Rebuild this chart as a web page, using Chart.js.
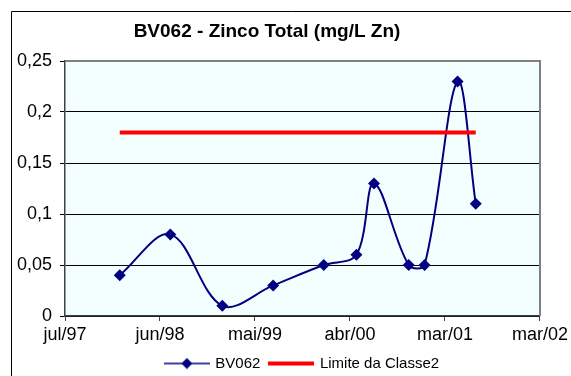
<!DOCTYPE html>
<html>
<head>
<meta charset="utf-8">
<title>BV062 - Zinco Total</title>
<script src="https://cdn.jsdelivr.net/npm/chart.js@4.4.1/dist/chart.umd.min.js"></script>
<style>
    html, body { margin: 0; padding: 0; background: #ffffff; overflow: hidden; }
    #wrap { width: 571px; height: 390px; }
</style>
</head>
<body>
<div id="wrap"><canvas id="chart1" width="571" height="390"></canvas></div>
<script>
/* ---------------------------------------------------------------------------------------- */
/* DATA                                                                                     */
/* ---------------------------------------------------------------------------------------- */

    var chartTitle   = 'BV062 - Zinco Total (mg/L Zn)';
    var seriesName   = 'BV062';
    var limitName    = 'Limite da Classe2';

    var sampleDates  = ['1998-01-21', '1998-07-21', '1999-01-23', '1999-07-24', '2000-01-21', '2000-05-17',
                        '2000-07-19', '2000-11-20', '2001-01-16', '2001-05-14', '2001-07-18'];
    var zincValues   = [0.04, 0.08, 0.01, 0.03, 0.05, 0.06, 0.13, 0.05, 0.05, 0.23, 0.11];
    var limitValue   = 0.18;

    var xTickLabels  = ['jul/97', 'jun/98', 'mai/99', 'abr/00', 'mar/01', 'mar/02'];
    var xAxisStart   = '1997-07-09';
    var xTickDays    = 340;

    var yMin = 0, yMax = 0.25, yStep = 0.05;

/* ---------------------------------------------------------------------------------------- */
/* HELPERS                                                                                  */
/* ---------------------------------------------------------------------------------------- */

    var FONT = '"Liberation Sans", Arial, sans-serif';

    function dayNum(s){
        var p = s.split('-');
        return Date.UTC(+p[0], +p[1] - 1, +p[2]) / 86400000;
    }

    function legendSwatch(color, lineW, marker){
        var c = document.createElement('canvas');
        c.width = 46; c.height = 12;
        var g = c.getContext('2d');
        g.strokeStyle = color; g.lineWidth = lineW;
        g.beginPath(); g.moveTo(0, 6); g.lineTo(46, 6); g.stroke();
        if(marker){
            g.fillStyle = color;
            g.beginPath();
            g.moveTo(23, 0.5); g.lineTo(28.5, 6); g.lineTo(23, 11.5); g.lineTo(17.5, 6);
            g.closePath(); g.fill();
        }
        return c;
    }

    var x0 = dayNum(xAxisStart);
    var x1 = x0 + xTickDays * (xTickLabels.length - 1);

    var zincPoints  = sampleDates.map(function(d, i){ return { x: dayNum(d), y: zincValues[i] }; });
    var limitPoints = sampleDates.map(function(d){ return { x: dayNum(d), y: limitValue }; });

    var swatches = [ legendSwatch('#000080', 1.5, true), legendSwatch('#ff0000', 4, false) ];

/* ---------------------------------------------------------------------------------------- */
/* FRAME / TITLE PLUGIN                                                                     */
/* ---------------------------------------------------------------------------------------- */

    var excelFrame = {
        id: 'excelFrame',
        beforeDraw: function(chart){
            var ctx = chart.ctx, a = chart.chartArea;
            ctx.save();
            ctx.fillStyle = '#ffffff';
            ctx.fillRect(0, 0, chart.width, chart.height);
            // outer chart border (only left/top are inside the picture)
            ctx.strokeStyle = '#000000'; ctx.lineWidth = 1;
            ctx.beginPath();
            ctx.moveTo(11.5, chart.height); ctx.lineTo(11.5, 11.5); ctx.lineTo(chart.width, 11.5);
            ctx.stroke();
            // plot area
            ctx.fillStyle = '#f3ffff';
            ctx.fillRect(a.left, a.top, a.right - a.left, a.bottom - a.top);
            // title
            ctx.fillStyle = '#000000';
            ctx.font = 'bold 19px ' + FONT;
            ctx.textAlign = 'center'; ctx.textBaseline = 'middle';
            ctx.fillText(chartTitle, 267, 32);
            ctx.restore();
        },
        beforeDatasetsDraw: function(chart){
            var ctx = chart.ctx, a = chart.chartArea;
            ctx.save();
            ctx.strokeStyle = '#808080'; ctx.lineWidth = 2;
            ctx.beginPath();
            ctx.moveTo(a.left, a.top); ctx.lineTo(a.right, a.top); ctx.lineTo(a.right, a.bottom);
            ctx.stroke();
            ctx.restore();
        }
    };

/* ---------------------------------------------------------------------------------------- */
/* CHART                                                                                    */
/* ---------------------------------------------------------------------------------------- */

    var ctx = document.getElementById('chart1').getContext('2d');
    var chart1 = new Chart(ctx, {
        type: 'line',
        data: {
            datasets: [{
                label: seriesName,
                data: zincPoints,
                borderColor: '#000080',
                backgroundColor: '#000080',
                borderWidth: 2,
                pointStyle: 'rectRot',
                pointRadius: 6,
                pointBorderWidth: 0,
                tension: 0.35,
                order: 1
            },{
                label: limitName,
                data: limitPoints,
                borderColor: '#ff0000',
                backgroundColor: '#ff0000',
                borderWidth: 4,
                pointRadius: 0,
                tension: 0,
                order: 0
            }]
        },
        options: {
            responsive: false,
            animation: false,
            devicePixelRatio: 1,
            layout: { padding: { left: 0, top: 61, right: 29, bottom: 9 } },
            scales: {
                x: {
                    type: 'linear',
                    min: x0,
                    max: x1,
                    afterBuildTicks: function(s){
                        s.ticks = xTickLabels.map(function(l, i){ return { value: x0 + i * xTickDays }; });
                    },
                    afterFit: function(s){ s.height = 30; },
                    ticks: {
                        autoSkip: false,
                        maxRotation: 0,
                        padding: 3,
                        color: '#000000',
                        font: { family: FONT, size: 18 },
                        callback: function(v, i){ return xTickLabels[i]; }
                    },
                    grid: { drawOnChartArea: false, drawTicks: true, tickLength: 5, color: '#404040' },
                    border: { color: '#404040', width: 1.5 }
                },
                y: {
                    min: yMin,
                    max: yMax,
                    afterFit: function(s){ s.width = 65; },
                    ticks: {
                        stepSize: yStep,
                        padding: 8,
                        color: '#000000',
                        font: { family: FONT, size: 18 },
                        callback: function(v){ return String(+v.toFixed(2)).replace('.', ','); }
                    },
                    grid: {
                        tickLength: 5,
                        tickColor: '#000000',
                        color: function(c){
                            if(Math.abs(c.tick.value - yMax) < 1e-9) return '#808080';
                            return '#000000';
                        }
                    },
                    border: { color: '#404040', width: 1.5 }
                }
            },
            plugins: {
                tooltip: { enabled: false },
                title: { display: false },
                legend: {
                    position: 'bottom',
                    fullSize: false,
                    labels: {
                        usePointStyle: true,
                        pointStyleWidth: 42,
                        padding: 10,
                        color: '#000000',
                        font: { family: FONT, size: 15 },
                        generateLabels: function(chart){
                            return chart.data.datasets.map(function(ds, i){
                                return { text: ds.label, pointStyle: swatches[i], datasetIndex: i,
                                         fontColor: '#000000', fillStyle: 'transparent',
                                         strokeStyle: 'transparent', lineWidth: 0, hidden: false };
                            });
                        }
                    }
                }
            }
        },
        plugins: [excelFrame]
    });
</script>
</body>
</html>
